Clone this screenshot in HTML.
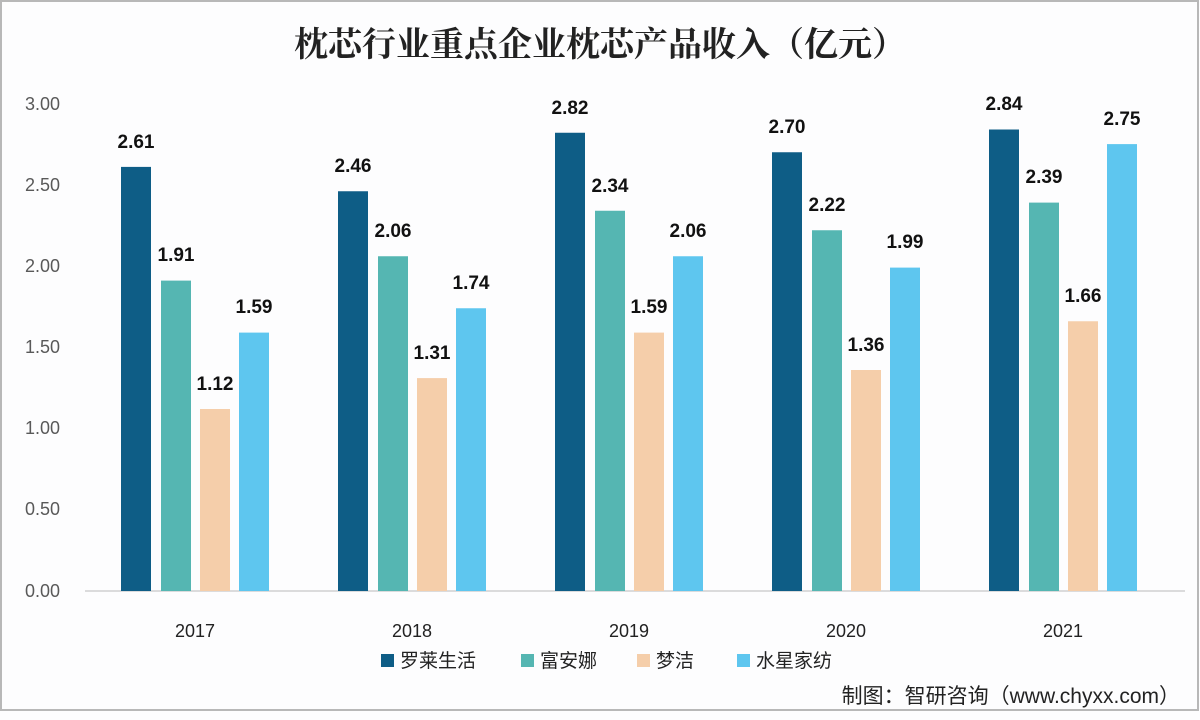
<!DOCTYPE html>
<html><head><meta charset="utf-8"><style>
html,body{margin:0;padding:0;background:#fff}
svg{display:block}
text{font-family:"Liberation Sans","Noto Sans CJK SC",sans-serif}
.l{font-size:19px;font-weight:bold;fill:#111;text-anchor:middle}
</style></head><body>
<svg width="1200" height="720" viewBox="0 0 1200 720">
<rect x="0" y="0" width="1200" height="720" fill="#fdfdfe"/>
<rect x="1" y="1" width="1197" height="709" fill="none" stroke="#b8b8b8" stroke-width="2"/>
<text x="600" y="56" text-anchor="middle" font-size="34" font-weight="bold" fill="#222" style="font-family:'Noto Serif CJK SC','Liberation Serif',serif">枕芯行业重点企业枕芯产品收入（亿元）</text>
<g font-size="18" fill="#595959" text-anchor="end">
<text x="60" y="110">3.00</text>
<text x="60" y="191">2.50</text>
<text x="60" y="272">2.00</text>
<text x="60" y="353">1.50</text>
<text x="60" y="434">1.00</text>
<text x="60" y="515">0.50</text>
<text x="60" y="597">0.00</text>
</g>
<line x1="85" y1="591" x2="1185" y2="591" stroke="#d0d0d0" stroke-width="1.5"/>
<g fill="#0e5d86">
<rect x="121" y="166.9" width="30" height="424.1"/>
<rect x="338" y="191.25" width="30" height="399.75"/>
<rect x="555" y="132.75" width="30" height="458.25"/>
<rect x="772" y="152.25" width="30" height="438.75"/>
<rect x="989" y="129.5" width="30" height="461.5"/>
</g>
<g fill="#55b6b2">
<rect x="161" y="280.6" width="30" height="310.4"/>
<rect x="378" y="256.25" width="30" height="334.75"/>
<rect x="595" y="210.75" width="30" height="380.25"/>
<rect x="812" y="230.25" width="30" height="360.75"/>
<rect x="1029" y="202.6" width="30" height="388.4"/>
</g>
<g fill="#f5ceaa">
<rect x="200" y="409" width="30" height="182"/>
<rect x="417" y="378.1" width="30" height="212.9"/>
<rect x="634" y="332.6" width="30" height="258.4"/>
<rect x="851" y="370" width="30" height="221"/>
<rect x="1068" y="321.25" width="30" height="269.75"/>
</g>
<g fill="#5ec6ef">
<rect x="239" y="332.6" width="30" height="258.4"/>
<rect x="456" y="308.25" width="30" height="282.75"/>
<rect x="673" y="256.25" width="30" height="334.75"/>
<rect x="890" y="267.6" width="30" height="323.4"/>
<rect x="1107" y="144.1" width="30" height="446.9"/>
</g>
<g>
<text class="l" x="136" y="148">2.61</text>
<text class="l" x="176" y="261">1.91</text>
<text class="l" x="215" y="390">1.12</text>
<text class="l" x="254" y="313">1.59</text>
<text class="l" x="353" y="172">2.46</text>
<text class="l" x="393" y="237">2.06</text>
<text class="l" x="432" y="359">1.31</text>
<text class="l" x="471" y="289">1.74</text>
<text class="l" x="570" y="114">2.82</text>
<text class="l" x="610" y="192">2.34</text>
<text class="l" x="649" y="313">1.59</text>
<text class="l" x="688" y="237">2.06</text>
<text class="l" x="787" y="133">2.70</text>
<text class="l" x="827" y="211">2.22</text>
<text class="l" x="866" y="351">1.36</text>
<text class="l" x="905" y="248">1.99</text>
<text class="l" x="1004" y="110">2.84</text>
<text class="l" x="1044" y="183">2.39</text>
<text class="l" x="1083" y="302">1.66</text>
<text class="l" x="1122" y="125">2.75</text>
</g>
<g font-size="18" fill="#222" text-anchor="middle">
<text x="195" y="637">2017</text>
<text x="412" y="637">2018</text>
<text x="629" y="637">2019</text>
<text x="846" y="637">2020</text>
<text x="1063" y="637">2021</text>
</g>
<g font-size="19" fill="#222">
<rect x="381" y="654" width="13" height="13" fill="#0e5d86"/><text x="400" y="667">罗莱生活</text>
<rect x="521" y="654" width="13" height="13" fill="#55b6b2"/><text x="540" y="667">富安娜</text>
<rect x="637" y="654" width="13" height="13" fill="#f5ceaa"/><text x="656" y="667">梦洁</text>
<rect x="737" y="654" width="13" height="13" fill="#5ec6ef"/><text x="756" y="667">水星家纺</text>
</g>
<text x="1180" y="703" text-anchor="end" font-size="21" fill="#222">制图：智研咨询（www.chyxx.com）</text>
</svg>
</body></html>
